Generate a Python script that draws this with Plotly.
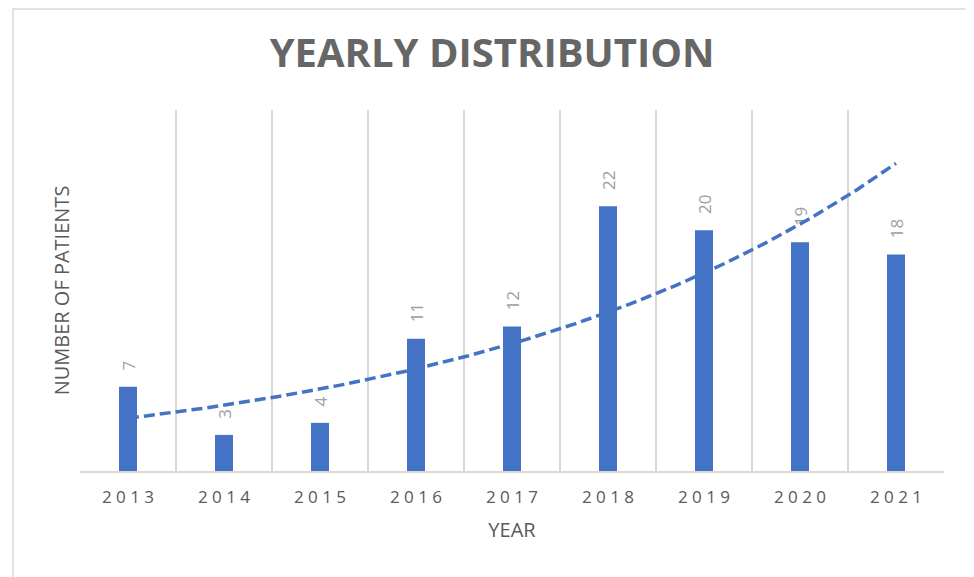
import numpy as np
import plotly.graph_objects as go

years = ["2013", "2014", "2015", "2016", "2017", "2018", "2019", "2020", "2021"]
patients = [7, 3, 4, 11, 12, 22, 20, 19, 18]

idx = np.arange(len(years))
# Exponential trendline (least-squares fit of log values, as a spreadsheet trendline)
b, a = np.polyfit(idx + 1, np.log(patients), 1)
tx = np.linspace(0, len(years) - 1, 200)
ty = np.exp(a + b * (tx + 1))

BLUE = "#4472C4"
GRAY = "#595959"
FONT = "Open Sans"

fig = go.Figure()
fig.add_trace(go.Bar(
    x=idx, y=patients, width=0.1875, marker=dict(color=BLUE, line=dict(width=0)),
    text=["\u00a0\u00a0\u00a0" + str(v) for v in patients], textposition="outside", textangle=-90,
    textfont=dict(color="#A0A0A0", size=17, family=FONT), cliponaxis=False,
    constraintext="none", showlegend=False,
))
fig.add_trace(go.Scatter(
    x=tx, y=ty, mode="lines", line=dict(color=BLUE, width=3.5, dash="11px,5px"),
    showlegend=False, hoverinfo="skip",
))

spaced = [" ".join(list(y)) for y in years]

fig.update_layout(
    width=974, height=577,
    margin=dict(l=72, r=38, t=102, b=114),
    paper_bgcolor="white", plot_bgcolor="white",
    font=dict(family=FONT, color=GRAY),
    title=dict(text="<b>YEARLY DISTRIBUTION</b>", x=0.497, xref="container",
               y=1 - 45 / 577, yref="container", xanchor="center", yanchor="middle",
               font=dict(size=40, color="#666666", family=FONT)),
    xaxis=dict(range=[-0.5, 8.5], tickvals=idx, ticktext=spaced, showgrid=False,
               tickfont=dict(size=17, color=GRAY), ticks="outside", ticklen=10,
               tickcolor="rgba(0,0,0,0)", zeroline=False,
               showline=True, linecolor="#D9D9D9", linewidth=1.5,
               minor=dict(tick0=-0.5, dtick=1, showgrid=True, gridcolor="#D9D9D9", gridwidth=1.5),
               title=dict(text="YEAR", font=dict(size=20, color=GRAY), standoff=16)),
    yaxis=dict(range=[0, 30], showgrid=False, showticklabels=False, zeroline=False,
               showline=False, ticks="",
               title=dict(text="NUMBER OF PATIENTS", font=dict(size=20, color=GRAY), standoff=4)),
    bargap=0.8,
    shapes=[dict(type="rect", xref="paper", yref="paper",
                 x0=(13 - 80) / 864, x1=(970 - 80) / 864, y0=-0.6, y1=(471 - 9) / 361,
                 line=dict(color="#D9D9D9", width=1.5), layer="below")],
)

fig.write_html("out.html")
